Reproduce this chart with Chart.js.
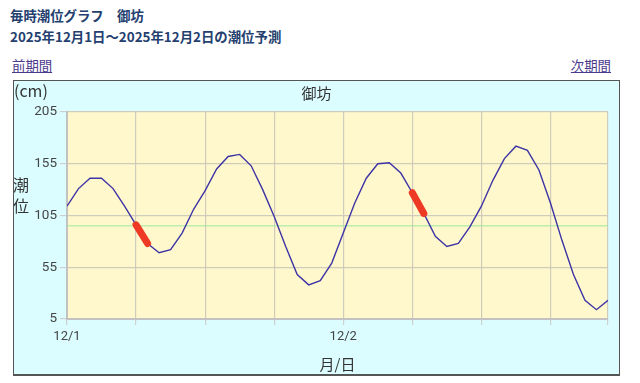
<!DOCTYPE html>
<html><head><meta charset="utf-8">
<script src="https://cdn.jsdelivr.net/npm/chart.js@4"></script>
<style>
body{margin:0;width:640px;height:383px;background:#fff;font-family:"Noto Sans CJK JP","Noto Sans",sans-serif;position:relative;overflow:hidden}
.h{position:absolute;left:10px;font-size:13.4px;font-weight:bold;color:#24406f;white-space:nowrap;line-height:1}
#t1{top:9px}
#t2{top:30px}
a{position:absolute;top:59px;font-size:13.4px;color:#4b3a8c;text-decoration:underline;line-height:1}
#prev{left:12px}
#next{right:29px}
#box{position:absolute;left:13px;top:80px;width:605px;height:293px;border:1px solid #555;border-bottom:2px solid #555;background:#dcfdff}
canvas{position:absolute;left:0;top:0}
</style>
</head><body>
<div class="h" id="t1">毎時潮位グラフ　御坊</div>
<div class="h" id="t2">2025年12月1日～2025年12月2日の潮位予測</div>
<a id="prev" href="#">前期間</a>
<a id="next" href="#">次期間</a>
<div id="box"><canvas id="c" width="605" height="293"></canvas></div>
<script>
// hours from 12/1 00:00
const hours = [0,1,2,3,4,5,6,7,8,9,10,11,12,13,14,15,16,17,18,19,20,21,22,23,24,25,26,27,28,29,30,31,32,33,34,35,36,37,38,39,40,41,42,43,44,45,46,47];
const tide = [114,131,141,141,131,114,96,78,69,72,88,111,129,150,162,164,153,130,104,75,48,38,42,59,88,117,141,155,156,146,127,107,85,75,78,94,114,139,160,172,168,149,117,81,48,23,14,23];
const highlight1 = [6,7];
const highlight2 = [30,31];
const meanLevel = 95;
const dateTicks = {0:'12/1',24:'12/2'};
const yTicks = [5,55,105,155,205];
const placeName = '御坊';

const pts = (hs) => hs.map(h => ({x:h, y:tide[hours.indexOf(h)]}));

const textPlugin = {
  id:'texts',
  afterDraw(chart){
    const ctx = chart.ctx, a = chart.chartArea;
    ctx.save();
    ctx.fillStyle = '#333';
    ctx.textBaseline = 'middle';
    ctx.font = '16px "Noto Sans CJK JP"';
    ctx.textAlign = 'left';
    ctx.fillText('(cm)', 0, 10);
    ctx.textAlign = 'center';
    ctx.font = '15px "Noto Sans CJK JP"';
    ctx.fillText(placeName, chart.width/2, 12);
    ctx.font = '16px "Noto Sans CJK JP"';
    ctx.fillText('潮', 7, 104);
    ctx.fillText('位', 7, 125);
    ctx.font = '15px "Noto Sans CJK JP"';
    ctx.fillText('月/日', (a.left + a.right)/2, 283);
    ctx.restore();
  }
};

new Chart(document.getElementById('c'), {
  type:'line',
  data:{datasets:[
    {data:pts(highlight1), borderColor:'#ee3a24', borderWidth:7, borderCapStyle:'round', pointRadius:0},
    {data:pts(highlight2), borderColor:'#ee3a24', borderWidth:7, borderCapStyle:'round', pointRadius:0},
    {data:pts(hours), borderColor:'#3d34a6', borderWidth:1.4, pointRadius:0, tension:0},
    {data:[{x:hours[0],y:meanLevel},{x:hours[hours.length-1],y:meanLevel}], borderColor:'#9ae89a', borderWidth:1, pointRadius:0}
  ]},
  options:{
    responsive:false, animation:false,
    layout:{padding:{top:31,right:11,left:0,bottom:0}},
    plugins:{legend:{display:false},tooltip:{enabled:false},title:{display:false}},
    scales:{
      x:{type:'linear',min:0,max:47,
        afterFit(s){s.height=55;},
        ticks:{stepSize:6,autoSkip:false,maxRotation:0,padding:4,color:'#444',font:{size:13,family:'Roboto'},
          callback:(v)=> dateTicks[v] || ''},
        grid:{color:'#d0ccbc',tickLength:6,tickColor:'#cfcfcf',lineWidth:1.2},
        border:{color:'#c2c2c2',width:2}},
      y:{min:5,max:205,
        afterFit(s){s.width=53;},
        afterBuildTicks(s){s.ticks = yTicks.map(v=>({value:v}));},
        ticks:{padding:3,color:'#444',font:{size:13.5,family:'Roboto'}},
        grid:{color:'#d0ccbc',tickLength:7,tickColor:'#cfcfcf',lineWidth:1.2},
        border:{color:'#c2c2c2',width:2}}
    }
  },
  plugins:[textPlugin, {
    id:'bg',
    beforeDraw(chart){
      const a = chart.chartArea, ctx = chart.ctx;
      ctx.save(); ctx.fillStyle = '#fff8cc';
      ctx.fillRect(a.left, a.top, a.right-a.left, a.bottom-a.top);
      ctx.restore();
    }
  }]
});
</script>
</body></html>
